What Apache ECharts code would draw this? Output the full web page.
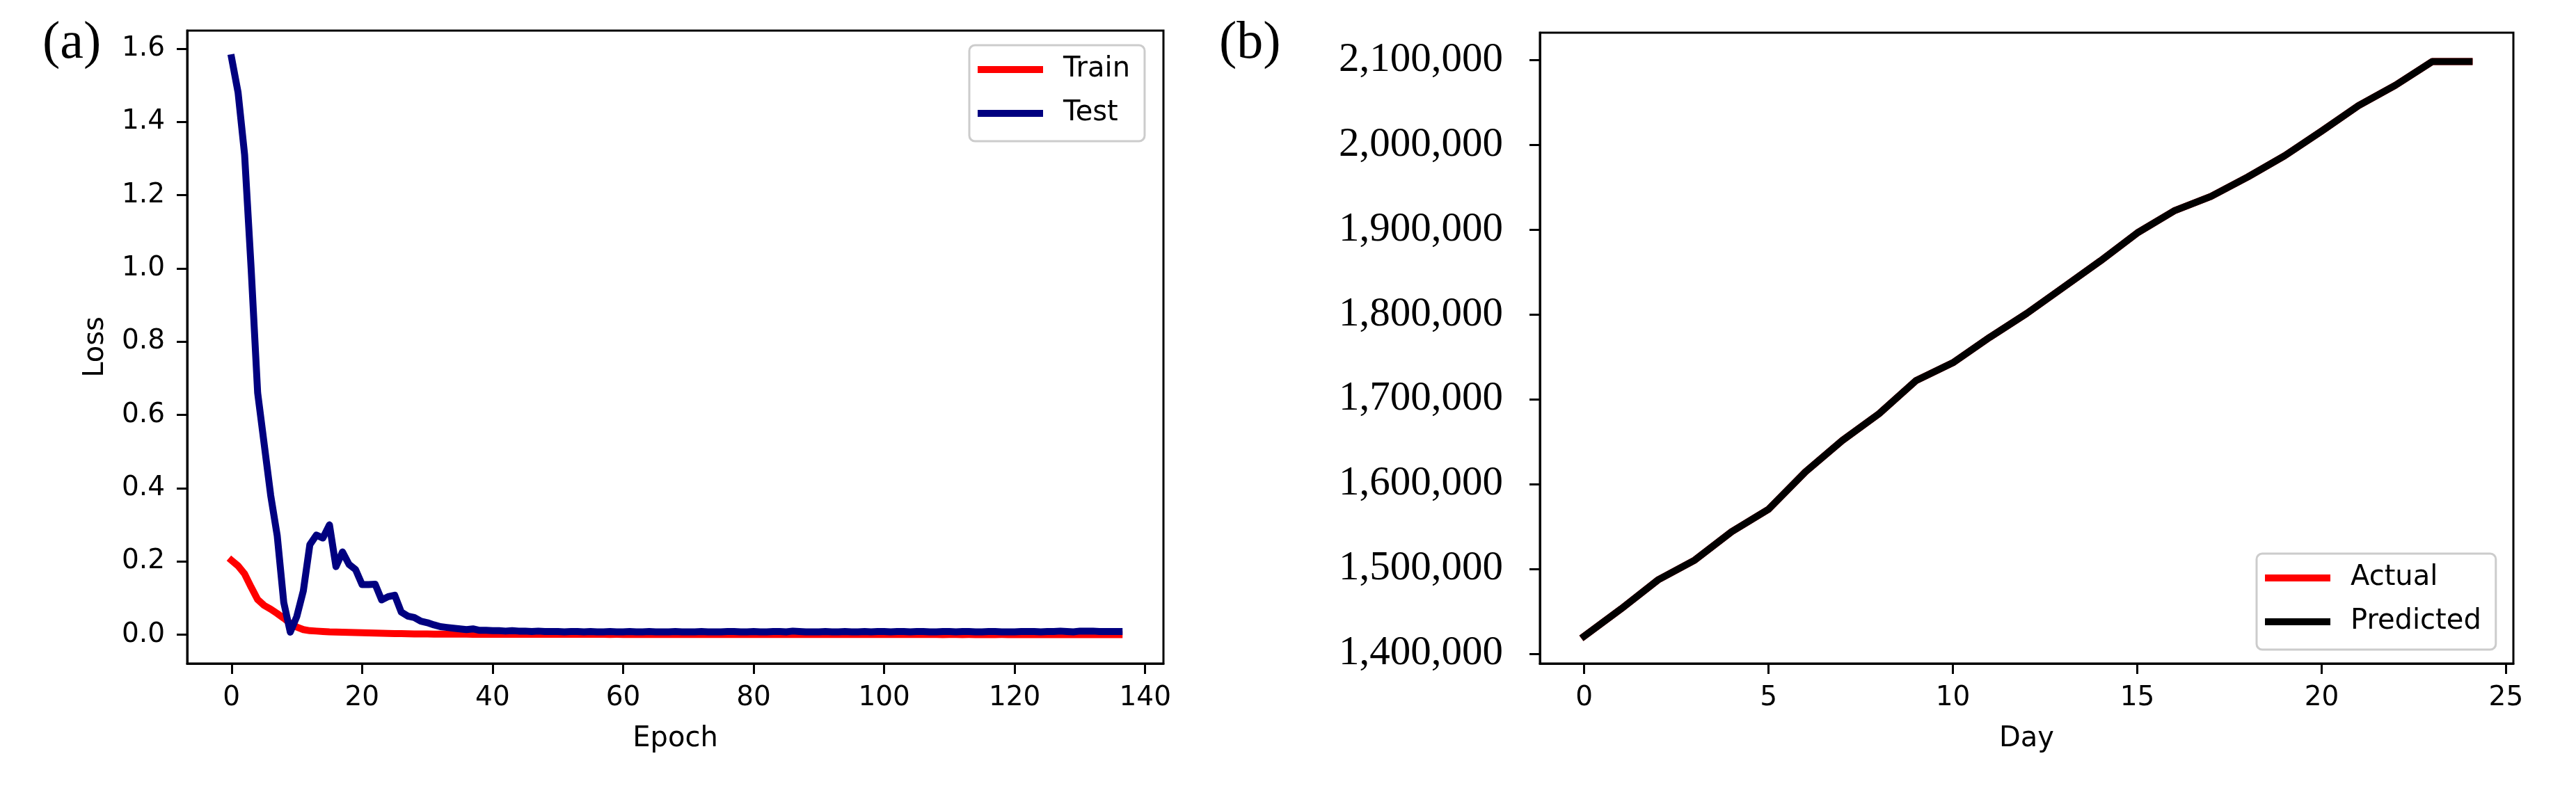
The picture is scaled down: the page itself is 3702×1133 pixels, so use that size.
<!DOCTYPE html>
<html>
<head>
<meta charset="utf-8">
<script src="https://cdn.jsdelivr.net/npm/echarts@6/dist/echarts.min.js"></script>
<style>
  html, body { margin: 0; padding: 0; background: #fff; }
  #chart { width: 3702px; height: 1133px; }
</style>
</head>
<body>
<div id="chart"></div>
<script>
// (a) loss per epoch, 0..136
const trainLoss = [
  0.203, 0.188, 0.166, 0.130, 0.096, 0.080, 0.070, 0.058, 0.045, 0.031,
  0.021, 0.014, 0.011, 0.010, 0.009, 0.008, 0.0075, 0.007, 0.0065, 0.006,
  0.0055, 0.005, 0.0045, 0.004, 0.0036, 0.0032, 0.0029, 0.0026, 0.0024, 0.0022,
  0.002, 0.0019, 0.0018, 0.0017, 0.0016, 0.0015,
  0.0015, 0.0014, 0.0014, 0.0013, 0.0013, 0.0013, 0.0012, 0.0012, 0.0012, 0.0012,
  0.0011, 0.0011, 0.0011, 0.0011, 0.0011, 0.0010, 0.0010, 0.0010, 0.0010, 0.0010,
  0.0010, 0.0010, 0.0009, 0.0010, 0.0009, 0.0009, 0.0009, 0.0009, 0.0009, 0.0009,
  0.0009, 0.0008, 0.0009, 0.0008, 0.0008, 0.0009, 0.0008, 0.0008, 0.0008, 0.0008,
  0.0008, 0.0008, 0.0007, 0.0008, 0.0008, 0.0007, 0.0008, 0.0007, 0.0007, 0.0008,
  0.0007, 0.0007, 0.0007, 0.0007, 0.0007, 0.0007, 0.0007, 0.0006, 0.0007, 0.0007,
  0.0006, 0.0007, 0.0006, 0.0006, 0.0007, 0.0006, 0.0006, 0.0006, 0.0006, 0.0006,
  0.0006, 0.0006, 0.0006, 0.0005, 0.0006, 0.0006, 0.0005, 0.0006, 0.0005, 0.0005,
  0.0005, 0.0005, 0.0006, 0.0005, 0.0005, 0.0005, 0.0005, 0.0005, 0.0005, 0.0005,
  0.0005, 0.0005, 0.0005, 0.0004, 0.0005, 0.0005, 0.0004, 0.0005, 0.0004, 0.0004,
  0.0004
];
const testLoss = [
  1.575, 1.48, 1.31, 1.00, 0.66, 0.52, 0.38, 0.27, 0.088, 0.007,
  0.05, 0.12, 0.246, 0.272, 0.264, 0.300, 0.186, 0.226, 0.192, 0.178,
  0.137, 0.137, 0.138, 0.095, 0.104, 0.108, 0.062, 0.051, 0.047, 0.037,
  0.033, 0.027, 0.022, 0.020, 0.018, 0.016, 0.014, 0.016, 0.012, 0.012,
  0.011, 0.011, 0.010, 0.011, 0.010, 0.010, 0.009, 0.010, 0.009, 0.009,
  0.009, 0.008, 0.009, 0.009, 0.008, 0.009, 0.008, 0.008, 0.009, 0.008,
  0.008, 0.009, 0.008, 0.008, 0.009, 0.008, 0.008, 0.008, 0.009, 0.008,
  0.008, 0.008, 0.009, 0.008, 0.008, 0.008, 0.009, 0.009, 0.008, 0.008,
  0.009, 0.008, 0.008, 0.009, 0.009, 0.008, 0.010, 0.009, 0.008, 0.008,
  0.008, 0.009, 0.008, 0.008, 0.009, 0.008, 0.008, 0.009, 0.008, 0.009,
  0.009, 0.008, 0.009, 0.009, 0.008, 0.009, 0.009, 0.008, 0.008, 0.009,
  0.009, 0.008, 0.009, 0.009, 0.008, 0.008, 0.009, 0.009, 0.008, 0.008,
  0.008, 0.009, 0.009, 0.009, 0.008, 0.009, 0.009, 0.010, 0.009, 0.008,
  0.010, 0.010, 0.010, 0.009, 0.009, 0.009, 0.009
];
const epochTicks = [0, 20, 40, 60, 80, 100, 120, 140];
const lossTicks = [0, 0.2, 0.4, 0.6, 0.8, 1.0, 1.2, 1.4, 1.6];

// (b) cumulative value per day, 0..24
const actual = [
  1420600, 1452800, 1486900, 1510400, 1543900, 1570300, 1614300, 1651300, 1683000, 1722000,
  1743000, 1773000, 1801000, 1832000, 1863000, 1896000, 1922000, 1939000, 1962000, 1987000,
  2016000, 2046000, 2070000, 2098000, 2098000
];
const predicted = [
  1420600, 1452800, 1486900, 1510400, 1543900, 1570300, 1614300, 1651300, 1683000, 1722000,
  1743000, 1773000, 1801000, 1832000, 1863000, 1896000, 1922000, 1939000, 1962000, 1987000,
  2016000, 2046000, 2070000, 2098000, 2098000
];
const dayTicks = [0, 5, 10, 15, 20, 25];
const countTicks = [1400000, 1500000, 1600000, 1700000, 1800000, 1900000, 2000000, 2100000];

const sans = 'DejaVu Sans';
const serif = 'Liberation Serif';

function withIndex(arr) {
  return arr.map((v, i) => [i, v]);
}
function commas(v) {
  return String(Math.round(v)).replace(/\B(?=(\d{3})+(?!\d))/g, ',');
}

const axisLine = { show: true, onZero: false, lineStyle: { color: '#000', width: 3 } };
const axisTick = (vals) => ({ show: true, length: 15, lineStyle: { color: '#000', width: 3 }, customValues: vals });

const chart = echarts.init(document.getElementById('chart'), null, { renderer: 'canvas' });
chart.setOption({
  animation: false,
  backgroundColor: '#fff',
  grid: [
    { left: 269, top: 44, right: 3702 - 1672, bottom: 1133 - 954, show: true, borderColor: '#000', borderWidth: 3, containLabel: false },
    { left: 2213, top: 47, right: 3702 - 3612, bottom: 1133 - 954, show: true, borderColor: '#000', borderWidth: 3, containLabel: false }
  ],
  xAxis: [
    {
      gridIndex: 0, type: 'value', min: -6.8, max: 142.8,
      name: 'Epoch', nameLocation: 'middle', nameGap: 89,
      nameTextStyle: { fontFamily: sans, fontSize: 40, color: '#000' },
      axisLine: axisLine, axisTick: axisTick(epochTicks), splitLine: { show: false },
      axisLabel: { customValues: epochTicks, margin: 30, fontFamily: sans, fontSize: 39, color: '#000' }
    },
    {
      gridIndex: 1, type: 'value', min: -1.2, max: 25.2,
      name: 'Day', nameLocation: 'middle', nameGap: 89,
      nameTextStyle: { fontFamily: sans, fontSize: 40, color: '#000' },
      axisLine: axisLine, axisTick: axisTick(dayTicks), splitLine: { show: false },
      axisLabel: { customValues: dayTicks, margin: 30, fontFamily: sans, fontSize: 39, color: '#000' }
    }
  ],
  yAxis: [
    {
      gridIndex: 0, type: 'value', min: -0.0785, max: 1.649,
      name: 'Loss', nameLocation: 'middle', nameGap: 111, nameRotate: 90,
      nameTextStyle: { fontFamily: sans, fontSize: 40, color: '#000' },
      axisLine: axisLine, axisTick: axisTick(lossTicks), splitLine: { show: false },
      axisLabel: { customValues: lossTicks, margin: 32, fontFamily: sans, fontSize: 39, color: '#000',
        formatter: (v) => v.toFixed(1) }
    },
    {
      gridIndex: 1, type: 'value', min: 1388500, max: 2132000,
      axisLine: axisLine, axisTick: axisTick(countTicks), splitLine: { show: false },
      axisLabel: { customValues: countTicks, margin: 53, fontFamily: serif, fontSize: 59, color: '#000',
        formatter: (v) => commas(v) }
    }
  ],
  legend: [
    {
      data: ['Train', 'Test'], orient: 'vertical', left: 1393, top: 65,
      icon: 'rect', itemWidth: 94, itemHeight: 10, itemGap: 23,
      padding: [15, 21, 20, 12],
      backgroundColor: 'rgba(255,255,255,0.8)', borderColor: '#cccccc', borderWidth: 3, borderRadius: 8,
      textStyle: { fontFamily: sans, fontSize: 40, lineHeight: 40, color: '#000', padding: [0, 0, 0, 24] }
    },
    {
      data: ['Actual', 'Predicted'], orient: 'vertical', left: 3243, top: 796,
      icon: 'rect', itemWidth: 94, itemHeight: 10, itemGap: 23,
      padding: [15, 21, 20, 12],
      backgroundColor: 'rgba(255,255,255,0.8)', borderColor: '#cccccc', borderWidth: 3, borderRadius: 8,
      textStyle: { fontFamily: sans, fontSize: 40, lineHeight: 40, color: '#000', padding: [0, 0, 0, 24] }
    }
  ],
  graphic: [
    { type: 'text', left: 61, top: 25, style: { text: '(a)', font: '76px "Liberation Serif"', fill: '#000' } },
    { type: 'text', left: 1752, top: 25, style: { text: '(b)', font: '76px "Liberation Serif"', fill: '#000' } }
  ],
  series: [
    { name: 'Train', type: 'line', xAxisIndex: 0, yAxisIndex: 0, data: withIndex(trainLoss),
      showSymbol: false, symbol: 'none', color: '#ff0000',
      lineStyle: { color: '#ff0000', width: 10, cap: 'square', join: 'round' } },
    { name: 'Test', type: 'line', xAxisIndex: 0, yAxisIndex: 0, data: withIndex(testLoss),
      showSymbol: false, symbol: 'none', color: '#000080',
      lineStyle: { color: '#000080', width: 10, cap: 'square', join: 'round' } },
    { name: 'Actual', type: 'line', xAxisIndex: 1, yAxisIndex: 1, data: withIndex(actual),
      showSymbol: false, symbol: 'none', color: '#ff0000',
      lineStyle: { color: '#ff0000', width: 10, cap: 'square', join: 'round' } },
    { name: 'Predicted', type: 'line', xAxisIndex: 1, yAxisIndex: 1, data: withIndex(predicted),
      showSymbol: false, symbol: 'none', color: '#000000',
      lineStyle: { color: '#000000', width: 10, cap: 'square', join: 'round' } }
  ]
});
</script>
</body>
</html>
